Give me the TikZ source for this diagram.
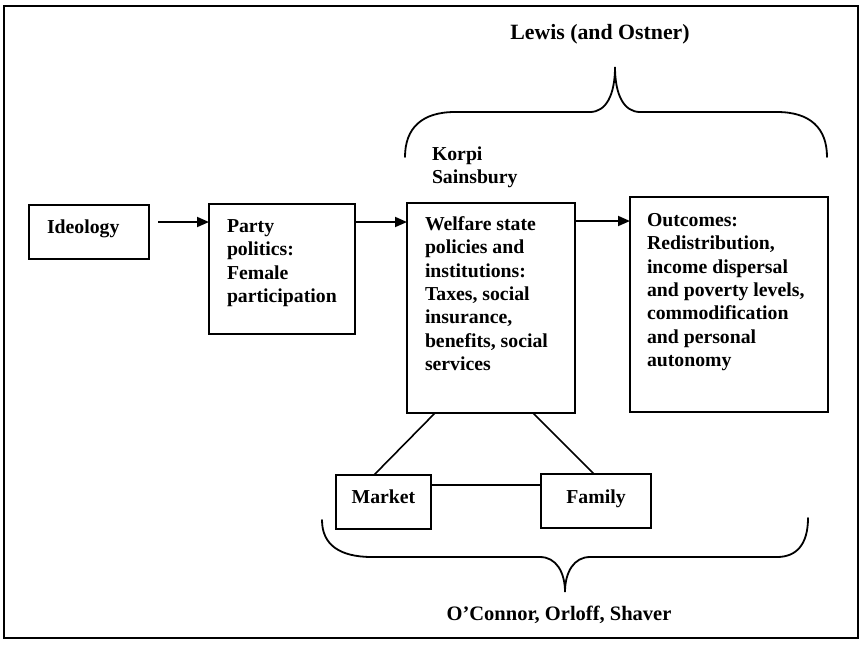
\documentclass[tikz,border=0pt]{standalone}
\usepackage{fontspec}
\setmainfont{Liberation Serif}
\usetikzlibrary{arrows.meta}
\begin{document}
\begin{tikzpicture}[x=1pt,y=-1pt,
  box/.style={draw, line width=1.8pt, rectangle, inner sep=0pt, outer sep=0pt},
  txt/.style={inner sep=0pt, outer sep=0pt, align=left, font=\bfseries\fontsize{19.75}{23.3}\selectfont},
  ctxt/.style={inner sep=0pt, outer sep=0pt, font=\bfseries\fontsize{19.75}{23.3}\selectfont},
  arr/.style={line width=1.8pt, -{Triangle[length=12pt,width=10pt]}},
  conn/.style={line width=1.6pt},
  brace/.style={line width=1.8pt, line cap=round}]
\useasboundingbox (0,0) rectangle (862,646);
\fill[white] (0,0) rectangle (862,646);
\draw[line width=1.5pt] (4,6) rectangle (858,638);

% boxes
\node[box, minimum width=120pt, minimum height=54pt, anchor=north west] (ideo) at (29,205) {};
\node[box, minimum width=146pt, minimum height=130pt, anchor=north west] (party) at (209,204) {};
\node[box, minimum width=168pt, minimum height=210pt, anchor=north west] (welf) at (407,203) {};
\node[box, minimum width=198pt, minimum height=215pt, anchor=north west] (outc) at (630,197) {};
\node[box, minimum width=95pt, minimum height=54pt, anchor=north west] (market) at (336,475) {};
\node[box, minimum width=110pt, minimum height=54pt, anchor=north west] (family) at (541,474) {};

% texts
\node[txt, anchor=north west] (ideot) at (47,219.6) {Ideology};
\node[txt, anchor=north west] (partyt) at (227,219.6) {Party\\politics:\\Female\\participation};
\node[txt, anchor=north west] (welft) at (425,216.6) {Welfare state\\policies and\\institutions:\\Taxes, social\\insurance,\\benefits, social\\services};
\node[txt, anchor=north west] (outct) at (647,213.6) {Outcomes:\\Redistribution,\\income dispersal\\and poverty levels,\\commodification\\and personal\\autonomy};
\node[txt, anchor=north west] (korpi) at (432,146.6) {Korpi\\Sainsbury};
\node[ctxt, anchor=base] (markett) at (383.5,503) {Market};
\node[ctxt, anchor=base] (familyt) at (596,503) {Family};
\node[ctxt, anchor=base, font=\bfseries\fontsize{21.8}{25}\selectfont] (lewis) at (600,39) {Lewis (and Ostner)};
\node[ctxt, anchor=base, font=\bfseries\fontsize{20.5}{24}\selectfont] (oconnor) at (559,620) {O’Connor, Orloff, Shaver};

% arrows
\draw[arr] ([shift={(9,17)}]ideo.north east) coordinate (a1) -- (a1 -| party.west);
\draw[arr] ([shift={(0,18)}]party.north east) coordinate (a2) -- (a2 -| welf.west);
\draw[arr] ([shift={(0,18)}]welf.north east) coordinate (a3) -- (a3 -| outc.west);

% connectors
\draw[conn] ([xshift=28pt]welf.south west) -- ([xshift=38pt]market.north west);
\draw[conn] ([xshift=-42pt]welf.south east) -- ([xshift=53pt]family.north west);
\draw[conn] ([shift={(0,10)}]market.north east) coordinate (mf) -- (mf -| family.west);

% top brace
\draw[brace] (405,157) .. controls (405,128) and (422,112) .. (455,112)
  -- (590,112) .. controls (606,112) and (615,95) .. (615,67)
  .. controls (615,95) and (624,112) .. (640,112)
  -- (777,112) .. controls (810,112) and (827,128) .. (827,157);

% bottom brace
\draw[brace] (322,520) .. controls (322,545) and (340,557) .. (372,557)
  -- (540,557) .. controls (556,557) and (565,572) .. (565,592)
  .. controls (565,572) and (574,557) .. (590,557)
  -- (777,557) .. controls (796,557) and (808,545) .. (808,518);
\end{tikzpicture}
\end{document}
